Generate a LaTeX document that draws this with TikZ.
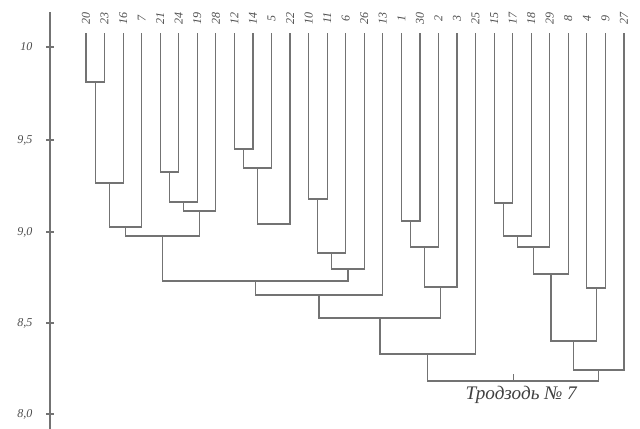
\documentclass[tikz,border=0pt]{standalone}
\usepackage{fontspec}
\setmainfont{Liberation Serif}
\usetikzlibrary{calc,positioning}
\tikzset{
branch/.style={draw=black!55,line width=0.9pt},
leaflabel/.style={text=black!70,font=\itshape\small,rotate=90,inner sep=1pt},
axislabel/.style={text=black!70,font=\itshape\small,anchor=east,inner sep=1pt},
caption/.style={text=black!75,font=\itshape\Large}
}

\begin{document}
\begin{tikzpicture}[x=0.75pt,y=-0.75pt]
\useasboundingbox (0,0) rectangle (640,429);

% axis
\coordinate (axtop) at (50,12);
\coordinate (axbot) at (50,429);
\draw[branch] (axtop) -- (axbot);
\foreach \v/\y in {10/47,{9,5}/140,{9,0}/232,{8,5}/323,{8,0}/414}
{
\coordinate (tk) at (50,\y);
\draw[branch] ([xshift=-3pt]tk) -- ([xshift=3pt]tk);
\node[axislabel] at (34,\y) {\v};
}

% leaves
\foreach \lab [count=\i from 0] in {20,23,16,7,21,24,19,28,12,14,5,22,10,11,6,26,13,1,30,2,3,25,15,17,18,29,8,4,9,27}
{
\node[leaflabel] (t\i) at ({86+18.55*\i},18) {\lab};
\coordinate (l\i) at ({86+18.55*\i},33);
}

% merges: name/left/right/height
\foreach \m/\a/\b/\h in {
m1/l0/l1/82, m2/m1/l2/183, m3/m2/l3/227,
m4/l4/l5/172, m5/m4/l6/202, m6/m5/l7/211, m7/m3/m6/236,
m8/l8/l9/149, m9/m8/l10/168, m10/m9/l11/224,
m11/l12/l13/199, m12/m11/l14/253, m13/m12/l15/269,
m14/m7/m13/281, m15/m14/l16/295,
m16/l17/l18/221, m17/m16/l19/247, m18/m17/l20/287,
m19/m15/m18/318, m20/m19/l21/354,
m21/l22/l23/203, m22/m21/l24/236, m23/m22/l25/247, m24/m23/l26/274,
m25/l27/l28/288, m26/m24/m25/341, m27/m26/l29/370,
m28/m20/m27/381}
{
\coordinate (hh) at (0,\h);
\coordinate (\m) at ($(\a)!0.5!(\b)$);
\coordinate (\m) at (\m |- hh);
\draw[branch] (\a) |- (\m) -| (\b);
}

\coordinate (root) at ([yshift=5pt]m28);
\draw[branch] (m28) -- (root);

\node[caption,below=5pt of root,xshift=6pt] (name) {Тродзодь № 7};
\end{tikzpicture}
\end{document}
